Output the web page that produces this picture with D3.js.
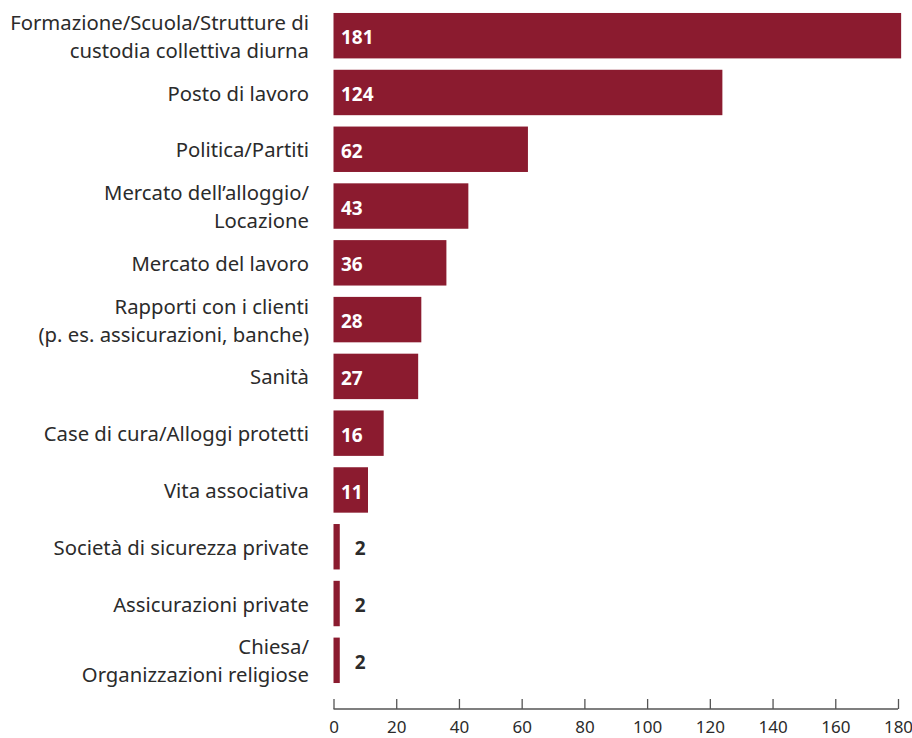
<!DOCTYPE html>
<html>
<head>
<meta charset="utf-8">
<script src="https://cdn.jsdelivr.net/npm/d3@7"></script>
<style>
  html, body { margin: 0; padding: 0; background: #fff; }
  svg { display: block; }
</style>
</head>
<body>
<svg id="chart" width="912" height="738"></svg>
<script>
// Categories (each entry is an array of label lines) and counts
const categories = [
  ["Formazione/Scuola/Strutture di", "custodia collettiva diurna"],
  ["Posto di lavoro"],
  ["Politica/Partiti"],
  ["Mercato dell\u2019alloggio/", "Locazione"],
  ["Mercato del lavoro"],
  ["Rapporti con i clienti", "(p. es. assicurazioni, banche)"],
  ["Sanità"],
  ["Case di cura/Alloggi protetti"],
  ["Vita associativa"],
  ["Società di sicurezza private"],
  ["Assicurazioni private"],
  ["Chiesa/", "Organizzazioni religiose"]
];
const values = [181, 124, 62, 43, 36, 28, 27, 16, 11, 2, 2, 2];
const xTicks = [0, 20, 40, 60, 80, 100, 120, 140, 160, 180];

const barColor = "#8b1b2f";
const textColor = "#2b2b2b";
const labelFont = "'Noto Sans', 'Open Sans', sans-serif";

const svg = d3.select("#chart");

const x = d3.scaleLinear().domain([0, 180]).range([333.5, 898]);
const y = d3.scaleBand()
  .domain(d3.range(categories.length))
  .range([7.3, 688.7])
  .paddingInner(0.2)
  .paddingOuter(0.1);

// Bars
svg.append("g").selectAll("rect")
  .data(values)
  .join("rect")
  .attr("x", x(0))
  .attr("y", (d, i) => y(i))
  .attr("width", d => x(d) - x(0))
  .attr("height", y.bandwidth())
  .attr("fill", barColor);

// Value labels: inside the bar in white, or just after short bars in dark
svg.append("g").selectAll("text")
  .data(values)
  .join("text")
  .attr("x", d => (x(d) - x(0) > 30 ? x(0) + 7.5 : x(d) + 15))
  .attr("y", (d, i) => y(i) + y.bandwidth() / 2 + 2)
  .attr("dy", "0.35em")
  .attr("fill", d => (x(d) - x(0) > 30 ? "#fff" : textColor))
  .style("font-family", labelFont)
  .style("font-weight", "700")
  .style("font-size", "19px")
  .text(d => d);

// Category labels, right-aligned against the bars
const lineH = 28;
const catG = svg.append("g");
categories.forEach((lines, i) => {
  const cy = y(i) + y.bandwidth() / 2;
  const t = catG.append("text")
    .attr("text-anchor", "end")
    .attr("fill", textColor)
    .style("font-family", labelFont)
    .style("font-size", "20.3px");
  lines.forEach((ln, j) => {
    t.append("tspan")
      .attr("x", 309)
      .attr("y", cy + (j - (lines.length - 1) / 2) * lineH + 1)
      .attr("dy", "0.35em")
      .text(ln);
  });
});

// Bottom axis with upward ticks
const axis = d3.axisBottom(x)
  .tickValues(xTicks)
  .tickSize(0)
  .tickPadding(0)
  .tickFormat(d3.format("d"));

const axG = svg.append("g")
  .attr("transform", "translate(0,709)")
  .call(axis);
axG.select(".domain").remove();
axG.append("line")
  .attr("x1", x(0)).attr("x2", x(180))
  .attr("stroke", "#555").attr("stroke-width", 1.3);
axG.selectAll(".tick line")
  .attr("y1", 0).attr("y2", -10)
  .attr("stroke", "#555").attr("stroke-width", 1.3);
axG.selectAll(".tick text")
  .attr("y", 18)
  .attr("dy", "0.35em")
  .attr("fill", textColor)
  .style("font-family", labelFont)
  .style("font-size", "17px");
</script>
</body>
</html>
